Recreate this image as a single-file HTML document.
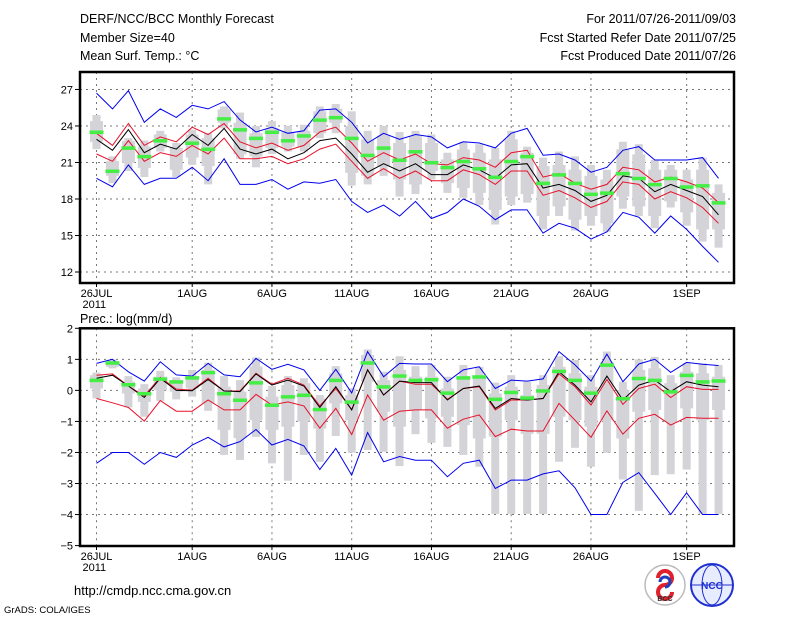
<!DOCTYPE html>
<html><head><meta charset="utf-8">
<style>
html,body{margin:0;padding:0;background:#fff;}
svg{display:block;font-family:"Liberation Sans",sans-serif;}
</style></head>
<body>
<svg id="chart" width="800" height="618" viewBox="0 0 800 618" xmlns="http://www.w3.org/2000/svg">
<g font-size="12.5" fill="#000">
<text x="80" y="23">DERF/NCC/BCC Monthly Forecast</text>
<text x="80" y="42">Member Size=40</text>
<text x="80" y="60">Mean Surf. Temp.: °C</text>
<text x="736" y="23" text-anchor="end">For 2011/07/26-2011/09/03</text>
<text x="736" y="42" text-anchor="end">Fcst Started Refer Date 2011/07/25</text>
<text x="736" y="60" text-anchor="end">Fcst Produced Date 2011/07/26</text>
</g>
<text x="80" y="323" font-size="12.5">Prec.: log(mm/d)</text>
<g id="top"></g>
<g id="bot"></g>
<text x="74" y="595" font-size="13">http://cmdp.ncc.cma.gov.cn</text>
<text x="4" y="613" font-size="9.5">GrADS: COLA/IGES</text>
<g>
<circle cx="665" cy="585" r="20" fill="#fff" stroke="#bbb" stroke-width="1.5"/>
<path d="M658 578 a7 7 0 1 1 7 7 a7 7 0 1 0 7 7" fill="none" stroke="#e0202a" stroke-width="4"/>
<path d="M660 582 a5 5 0 1 1 5 5" fill="none" stroke="#2040c0" stroke-width="3"/>
<text x="665" y="601" font-size="7" text-anchor="middle" fill="#333" font-weight="bold">BCC</text>
</g>
<g>
<circle cx="712" cy="585" r="21" fill="#e8ecff" stroke="#2030d0" stroke-width="2"/>
<ellipse cx="712" cy="585" rx="10" ry="20" fill="none" stroke="#2030d0" stroke-width="1"/>
<line x1="692" y1="585" x2="732" y2="585" stroke="#2030d0"/>
<text x="712" y="589" font-size="10" text-anchor="middle" fill="#2030d0" font-weight="bold">NCC</text>
</g>
</svg>
<script>
// ---------- data ----------
const dateTickIdx = [0,6,11,16,21,26,31,37];
const dateTickLabels = ["26JUL","1AUG","6AUG","11AUG","16AUG","21AUG","26AUG","1SEP"];
const tTicks = [12,15,18,21,24,27];
const pTicks = [2,1,0,-1,-2,-3,-4,-5];

const tMax = [26.7,25.4,26.9,24.3,25.4,24.7,25.7,25.4,26.0,24.5,23.5,23.9,23.4,23.6,25.3,25.4,24.3,22.6,23.4,22.9,23.3,23.1,22.2,22.7,22.6,22.2,23.4,23.8,21.6,21.7,21.2,20.2,20.6,22.0,22.3,21.2,21.2,21.2,21.4,19.7];
const tMin = [19.7,19.0,20.8,19.2,19.7,19.7,20.6,19.5,21.3,19.2,19.2,19.6,18.8,19.4,19.3,19.6,17.8,16.9,17.5,16.6,17.8,16.4,16.9,18.0,17.4,16.3,17.1,17.1,15.2,16.0,15.6,14.7,15.3,16.9,16.5,15.2,16.6,15.5,14.1,12.8];
const tMean = [22.9,22.0,23.7,21.8,22.5,22.1,23.3,22.4,23.8,22.1,21.7,22.1,21.3,21.8,22.8,23.0,21.7,20.2,20.9,20.3,20.9,20.0,20.0,20.8,20.4,19.7,20.8,20.9,18.9,19.2,18.7,17.8,18.3,19.9,19.7,18.6,19.2,18.7,18.2,16.7];
const tUp = [23.4,22.4,24.2,22.4,23.1,22.7,23.9,23.3,24.2,22.7,22.2,22.6,22.0,22.4,23.5,23.9,22.6,21.1,21.8,21.2,21.7,20.9,20.8,21.4,21.2,20.6,21.8,22.0,19.8,20.1,19.3,18.8,19.2,20.6,20.4,19.4,19.8,19.4,18.9,17.7];
const tLo = [21.7,21.1,22.8,21.1,21.8,21.5,22.4,21.7,23.0,21.3,21.3,21.5,20.9,21.3,22.1,22.5,21.1,19.7,20.5,19.7,20.3,19.5,19.5,20.4,20.0,19.2,20.3,20.3,18.3,18.7,18.1,17.3,17.8,19.4,19.2,18.0,18.6,18.1,17.3,16.0];
const tObs = [23.5,20.3,22.2,21.5,22.8,null,22.6,22.1,24.6,23.7,23.0,23.5,22.8,23.2,24.5,24.7,23.0,21.6,22.2,21.2,21.9,21.0,20.6,21.1,20.5,19.8,21.1,21.5,19.3,20.0,19.3,18.4,18.5,20.1,19.7,19.2,19.7,19.0,19.1,17.7];
const tWhiskHi = [24.9,21.5,23.0,22.8,23.6,22.6,23.7,23.4,25.6,25.1,24.0,24.4,24.0,24.1,25.6,25.8,25.2,23.6,24.0,23.5,23.6,23.3,21.8,22.7,22.5,22.2,23.6,22.3,21.4,21.9,21.5,20.8,20.4,22.7,22.5,21.2,20.8,20.4,21.4,19.2];
const tWhiskLo = [22.1,19.3,20.3,19.8,21.9,19.8,20.8,19.2,23.8,21.3,20.6,21.7,21.9,21.9,23.0,23.4,19.1,19.2,19.9,18.2,18.4,19.6,18.5,18.1,17.5,15.9,17.5,17.7,15.5,16.6,15.4,15.8,15.3,17.2,16.6,15.6,17.3,15.8,14.5,14.0];
const tQ3 = [24.4,21.1,22.75,22.3,23.3,22.2,23.3,23.0,25.36,24.26,23.4,23.85,23.5,23.6,25.2,25.4,24.0,22.9,23.2,22.6,23.16,22.6,21.25,22.07,21.8,21.25,22.9,21.8,20.7,20.8,20.4,19.9,19.6,22.07,21.66,20.4,20.4,19.6,20.4,18.5];
const tQ1 = [22.7,19.9,20.97,20.56,22.2,20.4,21.4,20.7,24.26,21.66,21.5,22.2,22.3,22.26,23.4,24.26,20.15,19.9,20.7,19.6,19.2,20.3,19.3,18.9,18.5,17.1,18.2,18.4,16.6,17.4,16.3,16.6,16.0,18.2,17.4,16.6,17.8,16.9,15.5,15.5];

const pMax = [0.87,1.0,0.6,0.3,0.92,0.5,0.46,0.87,0.5,0.44,1.03,0.68,0.84,0.66,0.0,0.68,-0.08,1.25,0.44,0.87,0.85,0.85,0.28,0.66,0.76,0.06,0.33,0.3,0.37,1.25,0.82,0.3,1.17,0.28,0.85,1.0,0.58,0.9,0.84,0.8];
const pMin = [-2.35,-2.0,-2.0,-2.38,-2.0,-2.16,-1.76,-1.51,-1.82,-1.65,-1.26,-1.76,-1.58,-1.79,-2.55,-1.87,-2.73,-1.36,-2.3,-2.13,-2.25,-2.25,-2.78,-2.35,-2.25,-3.16,-2.89,-2.89,-2.69,-2.59,-3.14,-4.0,-4.0,-2.96,-2.65,-3.32,-4.0,-3.3,-4.0,-4.0];
const pMean = [0.39,0.49,0.14,-0.23,0.39,0.0,-0.01,0.35,-0.02,-0.04,0.53,0.17,0.33,0.14,-0.55,0.12,-0.63,0.66,-0.15,0.3,0.25,0.25,-0.31,0.06,0.14,-0.58,-0.26,-0.31,-0.26,0.6,0.17,-0.37,0.46,-0.31,0.17,0.33,-0.04,0.28,0.17,0.12];
const pUp = [0.49,0.53,0.14,-0.18,0.42,0.04,0.01,0.39,-0.02,-0.02,0.55,0.2,0.39,0.17,-0.5,0.06,-0.62,0.66,-0.15,0.3,0.2,0.2,-0.29,0.06,0.12,-0.63,-0.31,-0.31,-0.26,0.53,0.12,-0.47,0.35,-0.45,0.06,0.2,-0.23,0.12,0.03,0.03];
const pLo = [-0.26,-0.4,-0.55,-0.99,-0.33,-0.67,-0.67,-0.31,-0.63,-0.63,-0.13,-0.47,-0.37,-0.5,-1.22,-0.58,-1.42,-0.15,-0.96,-0.67,-0.63,-0.63,-1.22,-0.93,-0.79,-1.49,-1.25,-1.31,-1.31,-0.42,-0.96,-1.51,-0.66,-1.41,-0.9,-0.77,-1.12,-0.87,-0.9,-0.9];
const pObs = [0.33,0.89,0.19,-0.1,0.37,0.28,0.41,0.58,-0.1,-0.31,0.25,-0.47,-0.2,-0.15,-0.61,0.33,-0.37,0.89,0.12,0.47,0.33,0.35,-0.08,0.41,0.44,-0.28,-0.06,-0.24,-0.01,0.62,0.33,-0.08,0.82,-0.26,0.39,0.33,-0.04,0.49,0.28,0.31];
const pWhiskHi = [0.57,0.99,0.46,0.2,0.63,0.42,0.66,0.89,0.46,0.33,1.06,0.14,0.46,0.39,-0.15,0.78,0.06,1.32,0.6,1.1,0.78,0.82,0.44,0.82,0.76,0.25,0.49,0.28,0.49,1.1,0.98,0.49,1.25,0.28,1.0,1.08,0.49,0.89,0.87,0.82];
const pWhiskLo = [-0.26,0.71,-0.55,-0.85,-0.34,-0.29,-0.2,-0.66,-2.08,-2.24,-1.5,-2.35,-2.91,-2.08,-2.3,-1.47,-2.01,-1.92,-1.98,-2.44,-1.41,-1.69,-1.82,-2.08,-2.46,-3.98,-3.98,-3.98,-3.98,-2.3,-1.85,-2.46,-2.01,-2.87,-3.88,-2.73,-2.7,-2.55,-3.98,-3.98];
const pQ3 = [0.49,0.95,0.28,0.06,0.44,0.33,0.44,0.66,0.12,-0.04,0.77,-0.2,0.17,0.23,-0.26,0.55,-0.15,1.14,0.33,0.66,0.44,0.44,0.06,0.39,0.44,-0.1,0.12,-0.15,0.17,0.76,0.55,0.12,0.92,0.01,0.66,0.71,0.23,0.6,0.55,0.44];
const pQ1 = [0.06,0.76,-0.1,-0.37,0.01,-0.04,0.06,-0.42,-1.27,-1.54,-0.96,-1.27,-1.17,-1.0,-1.23,-0.42,-0.96,0.28,-0.69,-1.17,-0.63,-0.9,-0.85,-1.12,-1.55,-1.49,-0.96,-1.4,-1.4,-0.85,-0.96,-1.17,-0.96,-1.55,-0.69,-0.63,-1.01,-0.58,-0.96,-0.63];

// ---------- drawing ----------
const NS = "http://www.w3.org/2000/svg";
const X0 = 80, X1 = 734;
function xPos(i){ return 96.5 + 15.95 * i; }
function yTop(v){ return 272 - (v - 12) * 12.17; }
function yBot(v){ return 328.3 + (2 - v) * 31.04; }
function mk(tag, attrs, parent){
  const e = document.createElementNS(NS, tag);
  for (const k in attrs) e.setAttribute(k, attrs[k]);
  parent.appendChild(e);
  return e;
}
function panel(g, yf, top, bottom, ticks, tickFmt, S){
  // grid
  ticks.forEach(t => {
    const yy = yf(t);
    if (yy > top + 1 && yy < bottom - 1) {
      const l = mk('line', {x1:X0, x2:X1, y1:yy, y2:yy, stroke:'#777', 'stroke-dasharray':'2,4', 'stroke-width':1}, g);
      
      
    }
    const tk = mk('line', {x1:X0-5, x2:X0, y1:yy, y2:yy, stroke:'#000', 'stroke-width':1}, g);
    
    
    const tx = mk('text', {x:X0-7, y:yy+4, 'font-size':11, 'text-anchor':'end'}, g);
    
    
    tx.textContent = tickFmt(t);
  });
  dateTickIdx.forEach((d, k) => {
    const xx = xPos(d);
    const l = mk('line', {x1:xx, x2:xx, y1:top, y2:bottom, stroke:'#777', 'stroke-dasharray':'2,4', 'stroke-width':1}, g);
    
    
    const tk = mk('line', {x1:xx, x2:xx, y1:bottom, y2:bottom+4, stroke:'#000'}, g);
    
    
    const tx = mk('text', {x:xx, y:bottom+14, 'font-size':11, 'text-anchor':'middle'}, g);
    
    
    tx.textContent = dateTickLabels[k];
  });
  const yr = mk('text', {x:xPos(0)-14, y:bottom+25, 'font-size':11}, g);
  
  
  yr.textContent = '2011';
  // boxes
  for (let i = 0; i < S.wh.length; i++) {
    const xx = xPos(i);
    const w = mk('rect', {x:xx-4, width:8, y:yf(S.wh[i]), height:yf(S.wl[i])-yf(S.wh[i]), fill:'#d3d3d8'}, g);
    
    
    const b = mk('rect', {x:xx-6.5, width:13, y:yf(S.q3[i]), height:yf(S.q1[i])-yf(S.q3[i]), fill:'#d3d3d8'}, g);
    
    
  }
  // lines
  [[S.lo,'#e8102a','lower-percentile-line'],[S.up,'#e8102a','upper-percentile-line'],[S.mean,'#000','ensemble-mean-line'],[S.max,'#0000ee','max-line'],[S.min,'#0000ee','min-line']].forEach(([arr,c,n]) => {
    const pts = arr.map((v,i) => xPos(i).toFixed(1)+','+yf(v).toFixed(1)).join(' ');
    const p = mk('polyline', {points:pts, fill:'none', stroke:c, 'stroke-width':1}, g);
    
    
  });
  // observations
  S.obs.forEach((v,i) => {
    if (v === null) return;
    const r = mk('rect', {x:xPos(i)-7, width:14, y:yf(v)-1.5, height:3.5, fill:'#44ee44'}, g);
    
    
  });
  const f = mk('rect', {x:X0, y:top, width:X1-X0, height:bottom-top, fill:'none', stroke:'#000', 'stroke-width':2.5}, g);
  
  
}
panel(document.getElementById('top'), yTop, 72, 283, tTicks, t => String(t),
  {max:tMax,min:tMin,mean:tMean,up:tUp,lo:tLo,obs:tObs,wh:tWhiskHi,wl:tWhiskLo,q3:tQ3,q1:tQ1});
panel(document.getElementById('bot'), yBot, 328.3, 546, pTicks, t => t < 0 ? '\u2212' + Math.abs(t) : String(t),
  {max:pMax,min:pMin,mean:pMean,up:pUp,lo:pLo,obs:pObs,wh:pWhiskHi,wl:pWhiskLo,q3:pQ3,q1:pQ1});
</script>
</body></html>
